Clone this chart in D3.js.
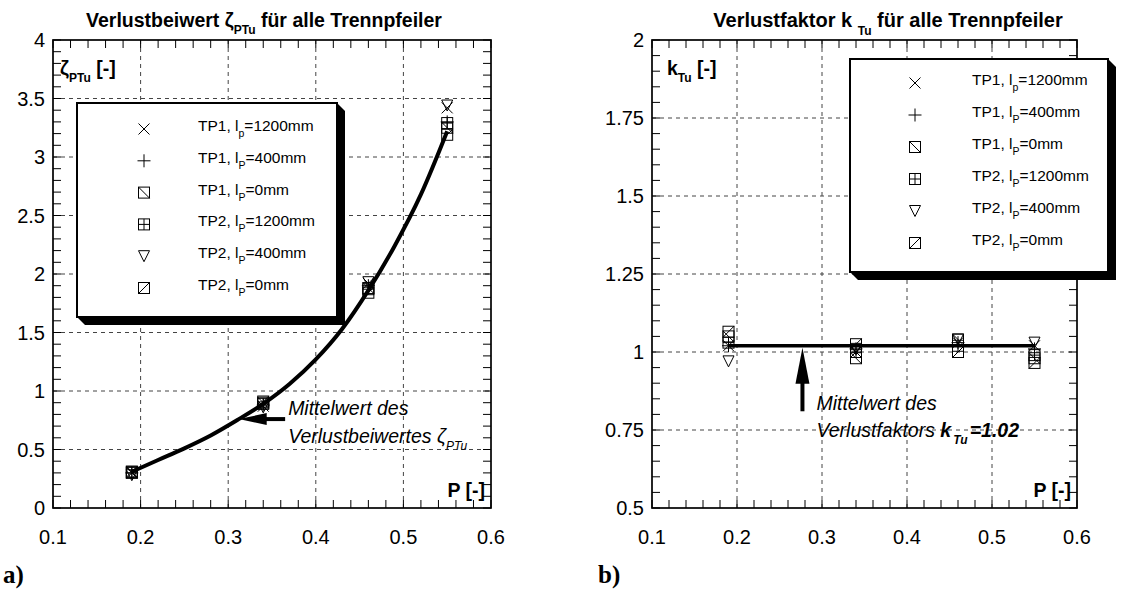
<!DOCTYPE html>
<html>
<head>
<meta charset="utf-8">
<script src="https://cdn.jsdelivr.net/npm/d3@7"></script>
<style>
  html, body { margin: 0; padding: 0; background: #fff; }
  svg text { font-family: "Liberation Sans", Arial, sans-serif; fill: #000; }
</style>
</head>
<body>
<svg id="chart" width="1147" height="589"></svg>
<script>
// Relative opening P of the pier measurements
const pValues = [0.19, 0.34, 0.46, 0.55];

// Legend entries: pier type, length symbol subscript, length
const seriesKeys = ["TP1_1200", "TP1_400", "TP1_0", "TP2_1200", "TP2_400", "TP2_0"];
const seriesLabels = [
  ["TP1, l", "p", "=1200mm"],
  ["TP1, l", "P", "=400mm"],
  ["TP1, l", "P", "=0mm"],
  ["TP2, l", "P", "=1200mm"],
  ["TP2, l", "P", "=400mm"],
  ["TP2, l", "P", "=0mm"]
];
const seriesSymbols = ["cross", "plus", "boxBack", "boxGrid", "triDown", "boxFwd"];

// Loss coefficient zeta_PTu per series at each P
const zetaTP1_1200 = [0.30, 0.87, 1.92, 3.42];
const zetaTP1_400  = [0.30, 0.88, 1.90, 3.30];
const zetaTP1_0    = [0.31, 0.90, 1.88, 3.25];
const zetaTP2_1200 = [0.30, 0.89, 1.87, 3.29];
const zetaTP2_400  = [0.28, 0.86, 1.93, 3.44];
const zetaTP2_0    = [0.31, 0.91, 1.84, 3.19];

// Mean curve of zeta_PTu
const meanCurveP    = [0.19, 0.22, 0.25, 0.28, 0.31, 0.34, 0.37, 0.40, 0.43, 0.46, 0.49, 0.52, 0.55];
const meanCurveZeta = [0.31, 0.41, 0.51, 0.62, 0.75, 0.89, 1.06, 1.27, 1.53, 1.86, 2.24, 2.68, 3.22];

// Loss factor k_Tu per series at each P
const kTP1_1200 = [1.02, 1.00, 1.03, 1.02];
const kTP1_400  = [1.02, 1.01, 1.03, 1.01];
const kTP1_0    = [1.05, 0.98, 1.04, 0.98];
const kTP2_1200 = [1.03, 1.00, 1.02, 0.99];
const kTP2_400  = [0.97, 1.01, 1.04, 1.03];
const kTP2_0    = [1.065, 1.025, 1.00, 0.965];
const kMean = 1.02;

// Axis ticks
const xTicks = [0.1, 0.2, 0.3, 0.4, 0.5, 0.6];
const xTickLabels = ["0.1", "0.2", "0.3", "0.4", "0.5", "0.6"];
const zetaTicks = [0, 0.5, 1, 1.5, 2, 2.5, 3, 3.5, 4];
const zetaTickLabels = ["0", "0.5", "1", "1.5", "2", "2.5", "3", "3.5", "4"];
const kTicks = [0.5, 0.75, 1, 1.25, 1.5, 1.75, 2];
const kTickLabels = ["0.5", "0.75", "1", "1.25", "1.5", "1.75", "2"];

const zetaSeries = [zetaTP1_1200, zetaTP1_400, zetaTP1_0, zetaTP2_1200, zetaTP2_400, zetaTP2_0];
const kSeries = [kTP1_1200, kTP1_400, kTP1_0, kTP2_1200, kTP2_400, kTP2_0];

const svg = d3.select("#chart");
const plotTop = 40, plotBottom = 508;
const tickFont = 20, titleFont = 19.5, noteFont = 19.5, legendFont = 15.5;

// Draws one marker symbol centred on (cx, cy)
function drawSymbol(g, type, cx, cy) {
  const h = 5.5;
  const s = g.append("g").attr("transform", `translate(${cx},${cy})`)
    .attr("fill", "none").attr("stroke", "#000").attr("stroke-width", 1);
  if (type === "cross") {
    s.append("path").attr("d", `M${-h},${-h}L${h},${h}M${-h},${h}L${h},${-h}`);
  } else if (type === "plus") {
    s.append("path").attr("d", `M${-h - 1},0L${h + 1},0M0,${-h - 1}L0,${h + 1}`);
  } else if (type === "triDown") {
    s.append("path").attr("d", `M${-h},${-h}L${h},${-h}L0,${h}Z`);
  } else {
    s.append("rect").attr("x", -h).attr("y", -h).attr("width", 2 * h).attr("height", 2 * h);
    if (type === "boxBack") s.append("path").attr("d", `M${-h},${-h}L${h},${h}`);
    if (type === "boxFwd") s.append("path").attr("d", `M${-h},${h}L${h},${-h}`);
    if (type === "boxGrid") s.append("path").attr("d", `M0,${-h}L0,${h}M${-h},0L${h},0`);
  }
}

// Frame, grid, ticks and tick labels of one panel
function drawFrame(x, y, yTicks, yTickLabels, yMinorStep) {
  const g = svg.append("g");
  const [x0, x1] = x.range();
  const [y0, y1] = [y.range()[1], y.range()[0]];
  // dashed grid at inner major ticks
  xTicks.slice(1, -1).forEach(v => {
    g.append("line").attr("x1", x(v)).attr("x2", x(v)).attr("y1", y0).attr("y2", y1)
      .attr("stroke", "#444").attr("stroke-width", 1).attr("stroke-dasharray", "4,4");
  });
  yTicks.slice(1, -1).forEach(v => {
    g.append("line").attr("x1", x0).attr("x2", x1).attr("y1", y(v)).attr("y2", y(v))
      .attr("stroke", "#444").attr("stroke-width", 1).attr("stroke-dasharray", "4,4");
  });
  // minor ticks on all four sides, pointing inward
  const tl = 8;
  const xMinor = d3.range(0, 26).map(i => 0.1 + i * 0.02);
  xMinor.forEach(v => {
    g.append("line").attr("x1", x(v)).attr("x2", x(v)).attr("y1", y1).attr("y2", y1 - tl).attr("stroke", "#000");
    g.append("line").attr("x1", x(v)).attr("x2", x(v)).attr("y1", y0).attr("y2", y0 + tl).attr("stroke", "#000");
  });
  const [d0, d1] = y.domain();
  const nY = Math.round((d1 - d0) / yMinorStep);
  d3.range(0, nY + 1).map(i => d0 + i * yMinorStep).forEach(v => {
    g.append("line").attr("x1", x0).attr("x2", x0 + tl).attr("y1", y(v)).attr("y2", y(v)).attr("stroke", "#000");
    g.append("line").attr("x1", x1).attr("x2", x1 - tl).attr("y1", y(v)).attr("y2", y(v)).attr("stroke", "#000");
  });
  // frame
  g.append("rect").attr("x", x0).attr("y", y0).attr("width", x1 - x0).attr("height", y1 - y0)
    .attr("fill", "none").attr("stroke", "#000").attr("stroke-width", 1.7);
  // tick labels
  xTicks.forEach((v, i) => {
    g.append("text").attr("x", x(v)).attr("y", y1 + 36).attr("text-anchor", "middle")
      .attr("font-size", tickFont).text(xTickLabels[i]);
  });
  yTicks.forEach((v, i) => {
    g.append("text").attr("x", x0 - 8).attr("y", y(v) + 7).attr("text-anchor", "end")
      .attr("font-size", tickFont).text(yTickLabels[i]);
  });
  // "P [-]" axis title inside the frame
  g.append("text").attr("x", x1 - 6).attr("y", y1 - 11).attr("text-anchor", "end")
    .attr("font-size", titleFont).attr("font-weight", "bold").text("P [-]");
}

// Legend box with a bevelled drop shadow
function drawLegend(lx, ly, lw, lh, symX, textX, rowY0, rowStep) {
  const g = svg.append("g");
  const d = 8;
  g.append("path")
    .attr("d", `M${lx + lw},${ly}L${lx + lw + d},${ly + d}L${lx + lw + d},${ly + lh + d}L${lx + d},${ly + lh + d}L${lx},${ly + lh}Z`)
    .attr("fill", "#000");
  g.append("rect").attr("x", lx).attr("y", ly).attr("width", lw).attr("height", lh)
    .attr("fill", "#fff").attr("stroke", "#000").attr("stroke-width", 2);
  seriesKeys.forEach((k, i) => {
    const cy = rowY0 + i * rowStep;
    drawSymbol(g, seriesSymbols[i], lx + symX, cy);
    const t = g.append("text").attr("x", lx + textX).attr("y", cy + 2).attr("font-size", legendFont);
    t.append("tspan").text(seriesLabels[i][0]);
    t.append("tspan").attr("dy", 6).attr("font-size", 10.5).text(seriesLabels[i][1]);
    t.append("tspan").attr("dy", -6).text(seriesLabels[i][2]);
  });
}

// ---------- Panel a): zeta_PTu ----------
const xA = d3.scaleLinear().domain([0.1, 0.6]).range([53, 491]);
const yA = d3.scaleLinear().domain([0, 4]).range([plotBottom, plotTop]);
drawFrame(xA, yA, zetaTicks, zetaTickLabels, 0.1);

// title
{
  const t = svg.append("text").attr("x", 264).attr("y", 27).attr("text-anchor", "middle")
    .attr("font-size", titleFont).attr("font-weight", "bold");
  t.append("tspan").text("Verlustbeiwert ζ");
  t.append("tspan").attr("dy", 7).attr("font-size", 12).text("PTu");
  t.append("tspan").attr("dy", -7).text(" für alle Trennpfeiler");
}
// y axis title inside frame
{
  const t = svg.append("text").attr("x", 60).attr("y", 75).attr("font-size", titleFont).attr("font-weight", "bold");
  t.append("tspan").text("ζ");
  t.append("tspan").attr("dy", 7).attr("font-size", 12).text("PTu");
  t.append("tspan").attr("dy", -7).text("  [-]");
}

// mean curve
const curveLine = d3.line().x(d => xA(d[0])).y(d => yA(d[1])).curve(d3.curveMonotoneX);
svg.append("path").datum(d3.zip(meanCurveP, meanCurveZeta))
  .attr("d", curveLine).attr("fill", "none").attr("stroke", "#000").attr("stroke-width", 4);

// measured points
zetaSeries.forEach((vals, i) => {
  const g = svg.append("g");
  vals.forEach((v, j) => drawSymbol(g, seriesSymbols[i], xA(pValues[j]), yA(v)));
});

// annotation arrow and text
{
  const tipX = xA(0.312), tipY = yA(0.76);
  const tailX = xA(0.365);
  svg.append("line").attr("x1", tipX + 25).attr("x2", tailX).attr("y1", tipY).attr("y2", tipY)
    .attr("stroke", "#000").attr("stroke-width", 4);
  svg.append("path").attr("d", `M${tipX},${tipY}L${tipX + 28},${tipY - 6}L${tipX + 28},${tipY + 6}Z`).attr("fill", "#000");
  svg.append("text").attr("x", tailX + 3).attr("y", tipY - 4).attr("font-size", noteFont)
    .attr("font-style", "italic").text("Mittelwert des");
  const t = svg.append("text").attr("x", tailX + 3).attr("y", tipY + 24).attr("font-size", noteFont)
    .attr("font-style", "italic");
  t.append("tspan").text("Verlustbeiwertes ζ");
  t.append("tspan").attr("dy", 7).attr("font-size", 12).text("PTu");
}
svg.append("text").attr("x", 3).attr("y", 583).attr("font-size", 25).attr("font-weight", "bold")
  .style("font-family", "'Liberation Serif', 'Times New Roman', serif").text("a)");

drawLegend(77, 103, 260, 214, 67, 121, 129, 31.8);

// ---------- Panel b): k_Tu ----------
const xB = d3.scaleLinear().domain([0.1, 0.6]).range([652, 1077]);
const yB = d3.scaleLinear().domain([0.5, 2]).range([plotBottom, plotTop]);
drawFrame(xB, yB, kTicks, kTickLabels, 0.05);

{
  const t = svg.append("text").attr("x", 888).attr("y", 27).attr("text-anchor", "middle")
    .attr("font-size", 20).attr("font-weight", "bold");
  t.append("tspan").text("Verlustfaktor k  ");
  t.append("tspan").attr("dy", 8).attr("font-size", 12).text("Tu");
  t.append("tspan").attr("dy", -8).text("  für alle Trennpfeiler");
}
{
  const t = svg.append("text").attr("x", 667).attr("y", 75).attr("font-size", titleFont).attr("font-weight", "bold");
  t.append("tspan").text("k");
  t.append("tspan").attr("dy", 7).attr("font-size", 12).text("Tu");
  t.append("tspan").attr("dy", -7).text("  [-]");
}

// mean line
svg.append("line").attr("x1", xB(pValues[0])).attr("x2", xB(pValues[pValues.length - 1]))
  .attr("y1", yB(kMean)).attr("y2", yB(kMean)).attr("stroke", "#000").attr("stroke-width", 3.5);

kSeries.forEach((vals, i) => {
  const g = svg.append("g");
  vals.forEach((v, j) => drawSymbol(g, seriesSymbols[i], xB(pValues[j]), yB(v)));
});

{
  const ax = xB(0.277), tipY = yB(kMean) + 2, tailY = yB(0.81);
  svg.append("line").attr("x1", ax).attr("x2", ax).attr("y1", tipY + 30).attr("y2", tailY)
    .attr("stroke", "#000").attr("stroke-width", 4);
  svg.append("path").attr("d", `M${ax},${tipY}L${ax - 7},${tipY + 36}L${ax + 7},${tipY + 36}Z`).attr("fill", "#000");
  svg.append("text").attr("x", ax + 14).attr("y", yB(0.83) + 5).attr("font-size", noteFont)
    .attr("font-style", "italic").text("Mittelwert des");
  const t = svg.append("text").attr("x", ax + 14).attr("y", yB(0.75) + 7).attr("font-size", noteFont)
    .attr("font-style", "italic");
  t.append("tspan").text("Verlustfaktors  ");
  t.append("tspan").attr("font-weight", "bold").text("k");
  t.append("tspan").attr("dy", 7).attr("dx", 2).attr("font-size", 12).attr("font-weight", "bold").text("Tu");
  t.append("tspan").attr("dy", -7).attr("dx", 2).attr("font-weight", "bold").text("=" + kMean.toFixed(2));
}
svg.append("text").attr("x", 598).attr("y", 583).attr("font-size", 25).attr("font-weight", "bold")
  .style("font-family", "'Liberation Serif', 'Times New Roman', serif").text("b)");

drawLegend(850, 59, 258, 213, 65, 122, 83, 32);
</script>
</body>
</html>
